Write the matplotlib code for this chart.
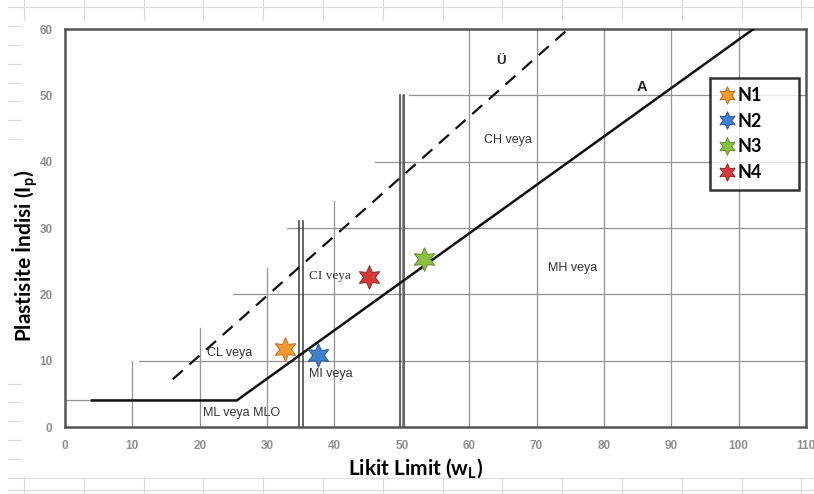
import numpy as np
import matplotlib
matplotlib.use("Agg")
import matplotlib.pyplot as plt

plt.rcParams['font.family'] = ['Liberation Sans', 'DejaVu Sans']
plt.rcParams['mathtext.fontset'] = 'custom'
plt.rcParams['mathtext.rm'] = 'Lato:bold'
plt.rcParams['mathtext.default'] = 'rm'

# soil samples (liquid limit, plasticity index)
samples = ['N1', 'N2', 'N3', 'N4']
wl = [32.6, 37.5, 53.3, 45.2]
ip = [11.7, 10.8, 25.4, 22.6]
face = ['#F29A2E', '#3F7FCB', '#8CBE40', '#D43B3B']
edge = ['#B8651A', '#24508A', '#5A8224', '#8E2020']

# A line and U line vertices
a_wl = [4, 25.5, 102.2]
a_ip = [4, 4, 60]
u_wl = [16, 74.7]
u_ip = [7.2, 60]

# chart grid (stepped under the U line)
vgrid_x = [10, 20, 30, 40, 50, 60, 70, 80, 90, 100]
vgrid_top = [10, 15, 24, 34, 50, 60, 60, 60, 60, 60]
hgrid_y = [4, 10, 20, 30, 40, 50]
hgrid_from = [0, 11, 25, 33, 46, 51]
hgrid_to = [25.5, 110, 110, 110, 110, 110]

# double boundary lines
bound_x = [35, 50]
bound_top = [31, 50]

zone_text = [
    ('CH veya', 65.8, 43.3, 'sans'),
    ('MH veya', 75.4, 24.0, 'sans'),
    ('CI veya', 39.4, 22.7, 'serif'),
    ('CL veya', 24.4, 11.1, 'sans'),
    ('MI veya', 39.4, 8.0, 'sans'),
    ('ML veya MLO', 26.2, 2.1, 'sans'),
]

W, H = 814, 494
fig = plt.figure(figsize=(W / 100, H / 100), dpi=100)

# spreadsheet cells behind the chart
bg = fig.add_axes([0, 0, 1, 1], zorder=-5)
bg.set_xlim(0, W)
bg.set_ylim(H, 0)
bg.axis('off')
cols = np.arange(24, W, 59.8)
rows = np.arange(7.5, 480, 18.8)
for c in cols:
    bg.plot([c, c], [0, H], color='#d9d9d9', lw=0.8)
for r in list(rows) + [490]:
    bg.plot([8, W], [r, r], color='#d9d9d9', lw=0.8)
bg.add_patch(plt.Rectangle((22, 21), W - 22, 456, color='white', zorder=2))
bg.add_patch(plt.Rectangle((6, 140), 36, 225, color='white', zorder=2))

ax = fig.add_axes([65 / W, 67 / H, 741 / W, 398 / H])
ax.set_xlim(0, 110)
ax.set_ylim(0, 60)

gc = '#939393'
for x, t in zip(vgrid_x, vgrid_top):
    ax.plot([x, x], [0, t], color=gc, lw=0.9, zorder=1)
for y, a, b in zip(hgrid_y, hgrid_from, hgrid_to):
    ax.plot([a, b], [y, y], color=gc, lw=0.9, zorder=1)

for x, t in zip(bound_x, bound_top):
    for dx in (-0.3, 0.3):
        ax.plot([x + dx, x + dx], [0, t], color='#3a3a3a', lw=1.1, zorder=2)

ax.plot(a_wl, a_ip, color='#111111', lw=1.8, zorder=3)
ax.plot(u_wl, u_ip, color='#111111', lw=1.6, dashes=(6, 4), zorder=3)

ax.text(64.7, 55.2, 'Ü', fontsize=9.5, fontweight='bold', color='#222222',
        ha='center', va='center')
ax.text(85.6, 51.3, 'A', fontsize=10.5, fontweight='bold', color='#222222',
        ha='center', va='center')
for s, x, y, fam in zone_text:
    if fam == 'serif':
        ax.text(x, y, s, fontsize=9.5, family='Liberation Serif',
                color='#333333', ha='center', va='center', zorder=4)
    else:
        ax.text(x, y, s, fontsize=9, family='Liberation Sans',
                color='#333333', ha='center', va='center', zorder=4)

for name, x, y, fc, ec in zip(samples, wl, ip, face, edge):
    ax.plot([x], [y], linestyle='none', marker=(6, 1, 0), ms=17,
            mfc=fc, mec=ec, mew=0.6, label=name, zorder=5)

for s in ax.spines.values():
    s.set_color('#555555')
    s.set_linewidth(1.8)
ax.set_xticks(np.arange(0, 111, 10))
ax.set_yticks(np.arange(0, 61, 10))
ax.tick_params(length=0, pad=9, labelsize=8.5, labelcolor='#8f8f8f')
for lab in ax.get_xticklabels() + ax.get_yticklabels():
    lab.set_fontweight('bold')

leg = ax.legend(loc='upper left', bbox_to_anchor=(0.87, 0.877, 0.12, 0.0),
                mode='expand', frameon=True, fancybox=False, borderpad=0.5,
                handletextpad=0.15, labelspacing=0.48, markerscale=0.75,
                handlelength=0.9, borderaxespad=0,
                prop={'family': 'Lato', 'weight': 'bold', 'size': 13})
leg.get_frame().set_edgecolor('black')
leg.get_frame().set_linewidth(1.8)

fig.text(25 / W, 1 - 256 / H, 'Plastisite İndisi (I$_{p}$)', rotation=90,
         family='Lato', fontweight='bold', fontsize=15,
         ha='center', va='center')
fig.text(416 / W, 1 - 468 / H, 'Likit Limit (w$_{L}$)',
         family='Lato', fontweight='bold', fontsize=15,
         ha='center', va='center')

fig.savefig('out.png', dpi=100)
